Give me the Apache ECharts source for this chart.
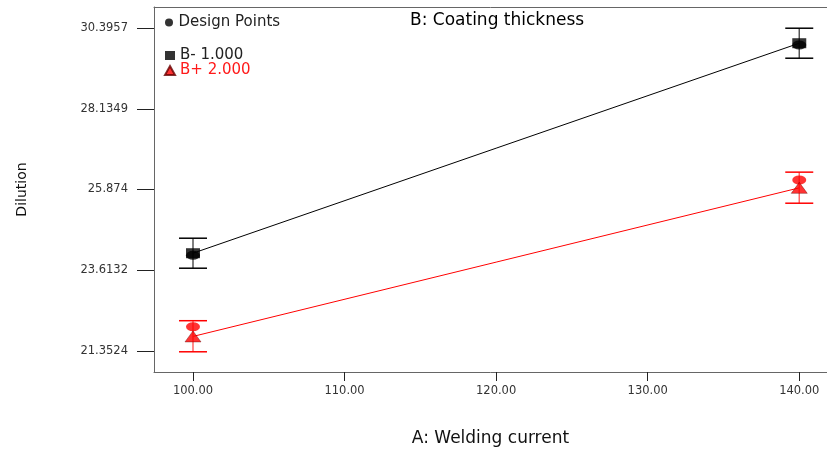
<!DOCTYPE html>
<html>
<head>
<meta charset="utf-8">
<script src="https://cdn.jsdelivr.net/npm/echarts@6/dist/echarts.min.js"></script>
<style>
  html, body { margin: 0; padding: 0; background: #fff; }
  #chart { width: 827px; height: 452px; }
</style>
</head>
<body>
<div id="chart"></div>
<script>
// welding current levels
var currents = [100, 140];
// predicted dilution, B- (1.000) and B+ (2.000)
var predLow = [24.09, 29.97];
var predHigh = [21.76, 25.92];
// error bar limits [lower, upper]
var barsLow = [[23.67, 24.51], [29.55, 30.39]];
var barsHigh = [[21.33, 22.20], [25.49, 26.36]];
// design points
var designLow = [24.03, 29.92];
var designHigh = [22.03, 26.14];
// tick labels
var xTicks = [100, 110, 120, 130, 140];
var yTicks = [21.3524, 23.6132, 25.874, 28.1349, 30.3957];

function pairs(ys) {
  return currents.map(function (x, i) { return [x, ys[i]]; });
}
function bars(list) {
  return currents.map(function (x, i) { return [x, list[i][0], list[i][1]]; });
}

function errorBar(stemColor, capColor) {
  return function (params, api) {
    var x = api.value(0);
    var lo = api.coord([x, api.value(1)]);
    var hi = api.coord([x, api.value(2)]);
    var hw = 14;
    return {
      type: 'group',
      children: [
        { type: 'line', shape: { x1: lo[0], y1: lo[1], x2: hi[0], y2: hi[1] }, style: { stroke: stemColor, lineWidth: 1.5 } },
        { type: 'line', shape: { x1: lo[0] - hw, y1: lo[1], x2: lo[0] + hw, y2: lo[1] }, style: { stroke: capColor, lineWidth: 1.5 } },
        { type: 'line', shape: { x1: hi[0] - hw, y1: hi[1], x2: hi[0] + hw, y2: hi[1] }, style: { stroke: capColor, lineWidth: 1.5 } }
      ]
    };
  };
}

var designData = pairs(designLow).map(function (p) {
  return { value: p, itemStyle: { color: '#000' } };
}).concat(pairs(designHigh).map(function (p) {
  return { value: p, itemStyle: { color: '#ff0000' } };
}));

var font = 'DejaVu Sans, Liberation Sans, Arial, sans-serif';

var chart = echarts.init(document.getElementById('chart'));
chart.setOption({
  animation: false,
  textStyle: { fontFamily: font },
  title: {
    text: 'B: Coating thickness',
    left: 405, top: 7,
    textStyle: { fontSize: 17, fontWeight: 'normal', color: '#000', fontFamily: font }
  },
  legend: [
    {
      data: ['Design Points'],
      left: 160, top: 10,
      itemWidth: 9, itemHeight: 8, itemGap: 4,
      textStyle: { fontSize: 15, color: '#222', fontFamily: font }
    },
    {
      orient: 'vertical',
      left: 159, top: 43,
      itemWidth: 10, itemHeight: 9, itemGap: 0,
      data: [
        { name: 'B- 1.000', textStyle: { color: '#222' } },
        { name: 'B+ 2.000', textStyle: { color: '#ff1a1a' } }
      ],
      textStyle: { fontSize: 15, fontFamily: font }
    }
  ],
  grid: { left: 154, right: 0, top: 7, bottom: 80 },
  xAxis: [
    {
      type: 'value',
      min: 97.427, max: 141.83,
      name: 'A: Welding current',
      nameLocation: 'middle', nameGap: 58,
      nameTextStyle: { fontSize: 17, color: '#111', fontFamily: font },
      axisLine: { show: true, lineStyle: { color: '#666' } },
      axisTick: { show: true, customValues: xTicks, length: 9, lineStyle: { color: '#222' } },
      axisLabel: {
        customValues: xTicks, margin: 13, fontSize: 11.5, color: '#333', fontFamily: font,
        formatter: function (v) { return v.toFixed(2); }
      },
      splitLine: { show: false }
    },
    {
      type: 'value', position: 'top',
      min: 97.427, max: 141.83,
      axisLine: { show: true, lineStyle: { color: '#666' } },
      axisTick: { show: false }, axisLabel: { show: false },
      splitLine: { show: false }
    }
  ],
  yAxis: {
    type: 'value',
    min: 20.764, max: 30.984,
    name: 'Dilution',
    nameLocation: 'middle', nameGap: 125, nameRotate: 90,
    nameTextStyle: { fontSize: 14, color: '#111', fontFamily: font },
    axisLine: { show: true, lineStyle: { color: '#666' } },
    axisTick: { show: true, customValues: yTicks, length: 17, lineStyle: { color: '#222' } },
    axisLabel: {
      customValues: yTicks, margin: 26, fontSize: 11.5, color: '#333', fontFamily: font,
      formatter: function (v) { return String(v); }
    },
    splitLine: { show: false }
  },
  series: [
    {
      name: 'lineLow', type: 'line', data: pairs(predLow), symbol: 'none',
      lineStyle: { color: '#000', width: 1 }, z: 2
    },
    {
      name: 'lineHigh', type: 'line', data: pairs(predHigh), symbol: 'none',
      lineStyle: { color: '#ff0000', width: 1 }, z: 2
    },
    {
      name: 'barsLow', type: 'custom', data: bars(barsLow),
      renderItem: errorBar('#555', '#000'), z: 3
    },
    {
      name: 'barsHigh', type: 'custom', data: bars(barsHigh),
      renderItem: errorBar('#ff6666', '#ff0000'), z: 3
    },
    {
      name: 'Design Points', type: 'scatter', data: designData,
      symbol: 'circle', symbolSize: [14, 9],
      itemStyle: { color: '#000' }, z: 4
    },
    {
      name: 'B- 1.000', type: 'scatter', data: pairs(predLow),
      symbol: 'rect', symbolSize: [14, 10],
      itemStyle: { color: '#000' }, z: 5
    },
    {
      name: 'B+ 2.000', type: 'scatter', data: pairs(predHigh),
      symbol: 'triangle', symbolSize: [16, 11],
      itemStyle: { color: '#ff0000', borderColor: '#600', borderWidth: 0.5 }, z: 5
    }
  ]
});
</script>
</body>
</html>
